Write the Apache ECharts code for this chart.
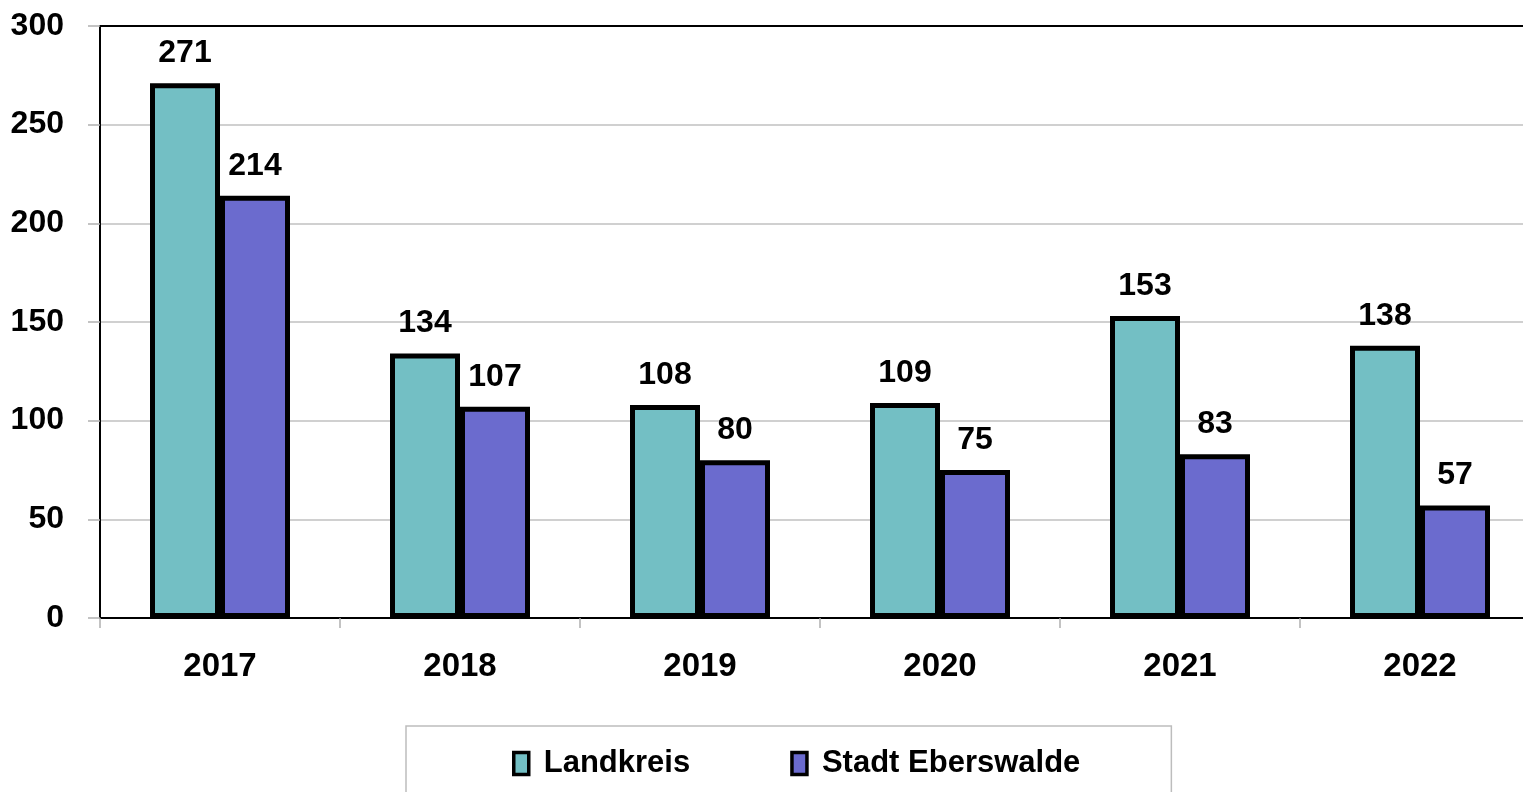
<!DOCTYPE html>
<html>
<head>
<meta charset="utf-8">
<script src="https://cdn.jsdelivr.net/npm/echarts@6/dist/echarts.min.js"></script>
<style>
  html, body { margin: 0; padding: 0; background: #fff; }
  #chart { width: 1523px; height: 792px; }
</style>
</head>
<body>
<div id="chart"></div>
<script>
// Daten
const years = ['2017', '2018', '2019', '2020', '2021', '2022']
const landkreis = [271, 134, 108, 109, 153, 138]
const eberswalde = [214, 107, 80, 75, 83, 57]

const font = "'Liberation Sans Narrow', 'Arial Narrow', 'Liberation Sans', Arial, sans-serif"

const chart = echarts.init(document.getElementById('chart'))

const barLabel = {
    show: true,
    position: 'top',
    distance: 14,
    color: '#000',
    fontFamily: font,
    fontWeight: 'bold',
    fontSize: 32
}

const option = {
    animation: false,
    textStyle: { fontFamily: font },
    grid: {
        left: 100,
        top: 26,
        width: 1440,
        height: 592,
        outerBoundsMode: 'none',
        containLabel: false,
        show: true,
        borderColor: '#000',
        borderWidth: 2
    },
    legend: {
        left: 406,
        top: 726,
        padding: [22, 91, 40, 106],
        borderColor: '#bdbdbd',
        borderWidth: 1.5,
        icon: 'rect',
        itemWidth: 15,
        itemHeight: 22,
        itemGap: 100,
        itemStyle: { borderWidth: 3.5, borderColor: '#000' },
        textStyle: {
            fontFamily: font,
            fontWeight: 'bold',
            fontSize: 31,
            color: '#000',
            padding: [0, 0, 0, 10]
        },
        data: ['Landkreis', 'Stadt Eberswalde']
    },
    xAxis: {
        type: 'category',
        data: years,
        axisLine: { lineStyle: { color: '#000', width: 2 } },
        axisTick: { show: true, length: 10, lineStyle: { color: '#b0b0b0', width: 1.5 } },
        axisLabel: {
            margin: 32,
            color: '#000',
            fontFamily: font,
            fontWeight: 'bold',
            fontSize: 33
        }
    },
    yAxis: {
        type: 'value',
        min: 0,
        max: 300,
        interval: 50,
        axisLine: { show: true, lineStyle: { color: '#000', width: 2 } },
        axisTick: { show: true, length: 12, lineStyle: { color: '#b0b0b0', width: 1.5 } },
        splitLine: { showMaxLine: false, lineStyle: { color: '#c0c0c0', width: 1.5 } },
        axisLabel: {
            margin: 36,
            color: '#000',
            fontFamily: font,
            fontWeight: 'bold',
            fontSize: 32
        }
    },
    series: [
        {
            name: 'Landkreis',
            type: 'bar',
            data: landkreis,
            barWidth: 70,
            barGap: '0%',
            itemStyle: { color: '#73bfc4', borderColor: '#000', borderWidth: 5 },
            label: barLabel
        },
        {
            name: 'Stadt Eberswalde',
            type: 'bar',
            data: eberswalde,
            barWidth: 70,
            itemStyle: { color: '#6b6bce', borderColor: '#000', borderWidth: 5 },
            label: barLabel
        }
    ]
}
chart.setOption(option)
</script>
</body>
</html>
